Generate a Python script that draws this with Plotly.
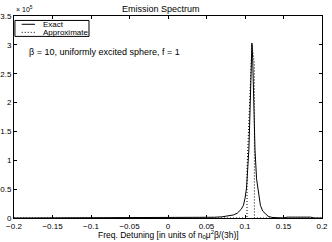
import plotly.graph_objects as go

# Exact spectrum (values in units of 1e5)
x_exact = [-0.2, 0.03, 0.05, 0.06, 0.07, 0.08, 0.085, 0.09, 0.095, 0.098, 0.1, 0.102,
           0.104, 0.105, 0.106, 0.107, 0.108, 0.109, 0.110, 0.111, 0.112, 0.113,
           0.115, 0.118, 0.12, 0.123, 0.127, 0.13, 0.135, 0.14, 0.15, 0.155,
           0.185, 0.19, 0.2]
y_exact = [0.0, 0.0, 0.01, 0.013, 0.02, 0.037, 0.053, 0.084, 0.15, 0.22, 0.34, 0.52,
           0.88, 1.18, 1.61, 2.18, 2.76, 3.03, 2.76, 2.18, 1.61, 1.18,
           0.68, 0.34, 0.22, 0.12, 0.06, 0.03, 0.01, 0.003, 0.0, 0.015,
           0.015, 0.0, 0.0]

# Approximate spectrum
x_approx = [-0.2, 0.1026, 0.1026, 0.104, 0.106, 0.108, 0.109, 0.110, 0.111, 0.1122, 0.1122, 0.2]
y_approx = [0.0, 0.0, 0.85, 1.3, 2.0, 2.8, 3.0, 2.9, 2.8, 2.67, 0.0, 0.0]

x_ticks = [-0.2, -0.15, -0.1, -0.05, 0, 0.05, 0.1, 0.15, 0.2]
x_ticklabels = ["\u22120.2", "\u22120.15", "\u22120.1", "\u22120.05", "0", "0.05", "0.1", "0.15", "0.2"]
y_ticks = [0, 0.5, 1, 1.5, 2, 2.5, 3, 3.5]
y_ticklabels = ["0", "0.5", "1", "1.5", "2", "2.5", "3", "3.5"]

legend_names = ["Exact", "Approximate"]

FONT = "Liberation Sans, Arial, sans-serif"
DOT = "1px,2px"

fig = go.Figure()
fig.add_trace(go.Scatter(x=x_exact, y=y_exact, mode="lines", name=legend_names[0],
                         line=dict(color="black", width=1)))
fig.add_trace(go.Scatter(x=x_approx, y=y_approx, mode="lines", name=legend_names[1],
                         line=dict(color="black", width=1, dash=DOT)))

axis_common = dict(showgrid=False, zeroline=False, showline=True, linecolor="black",
                   linewidth=1, mirror="ticks", ticks="inside", ticklen=3,
                   tickcolor="black", automargin=False,
                   tickfont=dict(size=8, family=FONT, color="black"))

# manual legend (box, line samples, labels) in paper coordinates
shapes = [
    dict(type="rect", xref="paper", yref="paper", x0=0.003, x1=0.2435, y0=0.899, y1=0.978,
         line=dict(color="black", width=1), fillcolor="white", layer="above"),
    dict(type="line", xref="paper", yref="paper", x0=0.025, x1=0.068, y0=0.959, y1=0.959,
         line=dict(color="black", width=1), layer="above"),
    dict(type="line", xref="paper", yref="paper", x0=0.025, x1=0.068, y0=0.919, y1=0.919,
         line=dict(color="black", width=1, dash=DOT), layer="above"),
]

annotations = [
    dict(text="Emission Spectrum", x=0.477, y=1.0 + 7 / 202, xref="paper", yref="paper",
         xanchor="center", yanchor="middle", showarrow=False, font=dict(size=9, family=FONT)),
    dict(text="\u00d7 10<sup>5</sup>", x=0.0, y=1.0 + 1 / 202, xref="paper", yref="paper",
         xanchor="left", yanchor="bottom", showarrow=False, font=dict(size=7, family=FONT)),
    dict(text="\u03b2 = 10, uniformly excited sphere, f = 1", x=0.041, y=0.822,
         xref="paper", yref="paper", xanchor="left", yanchor="middle", showarrow=False,
         font=dict(size=9, family=FONT)),
    dict(text="Freq. Detuning [in units of n<sub>0</sub>\u03bc<sup>2</sup>\u03b2/(3h)]",
         x=0.5, y=-16 / 202, xref="paper", yref="paper", xanchor="center", yanchor="middle",
         showarrow=False, font=dict(size=8.5, family=FONT)),
    dict(text=legend_names[0], x=0.0867, y=0.959, xref="paper", yref="paper",
         xanchor="left", yanchor="middle", showarrow=False, font=dict(size=8, family=FONT)),
    dict(text=legend_names[1], x=0.0867, y=0.919, xref="paper", yref="paper",
         xanchor="left", yanchor="middle", showarrow=False, font=dict(size=8, family=FONT)),
]

fig.update_layout(
    width=332, height=242,
    margin=dict(l=14, r=10, t=16, b=24),
    paper_bgcolor="white", plot_bgcolor="white",
    font=dict(family=FONT, size=8, color="black"),
    xaxis=dict(range=[-0.2, 0.2], tickvals=x_ticks, ticktext=x_ticklabels, **axis_common),
    yaxis=dict(range=[0, 3.5], tickvals=y_ticks, ticktext=y_ticklabels, **axis_common),
    showlegend=False,
    shapes=shapes,
    annotations=annotations,
)

fig.write_html("out.html", config={"displayModeBar": False},
               post_script="document.body.style.margin='0px';document.body.style.padding='0px';")
